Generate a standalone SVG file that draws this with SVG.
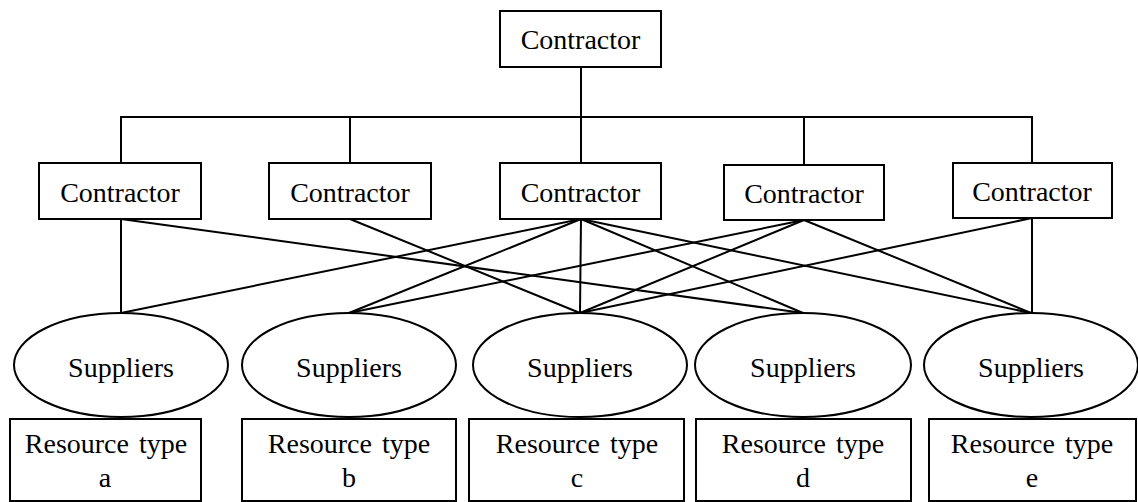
<svg xmlns="http://www.w3.org/2000/svg" width="1138" height="502" viewBox="0 0 1138 502">
<style>
  .box { fill: #fff; stroke: #000; stroke-width: 2; }
  .ell { fill: #fff; stroke: #000; stroke-width: 2; }
  .lbl { font-family: "Liberation Serif", "Times New Roman", serif; font-size: 28px; fill: #000; text-anchor: middle; }
  .res { word-spacing: 3px; }
  #connectors line, #connectors polyline { stroke: #000; stroke-width: 2; fill: none; }
</style>
<rect width="1138" height="502" fill="#fff"/>
<g id="connectors">
  <line x1="581" y1="67" x2="581" y2="117"/>
  <polyline points="121,163 121,117 1032,117 1032,163"/>
  <line x1="350" y1="117" x2="350" y2="163"/>
  <line x1="581" y1="117" x2="581" y2="163"/>
  <line x1="804" y1="117" x2="804" y2="165"/>
  <!-- box1 -->
  <line x1="121" y1="219" x2="121" y2="313"/>
  <line x1="121" y1="219" x2="803" y2="313"/>
  <!-- box2 -->
  <line x1="350" y1="219" x2="580" y2="313"/>
  <!-- box3 -->
  <line x1="581" y1="219" x2="121" y2="313"/>
  <line x1="581" y1="219" x2="349" y2="313"/>
  <line x1="581" y1="219" x2="580" y2="313"/>
  <line x1="581" y1="219" x2="803" y2="313"/>
  <line x1="581" y1="219" x2="1031" y2="313"/>
  <!-- box4 -->
  <line x1="804" y1="220" x2="349" y2="313"/>
  <line x1="804" y1="220" x2="580" y2="313"/>
  <line x1="804" y1="220" x2="1031" y2="313"/>
  <!-- box5 -->
  <line x1="1032" y1="218" x2="580" y2="313"/>
  <line x1="1032" y1="218" x2="1032" y2="313"/>
</g>
<g id="top-contractor">
  <rect class="box" x="500" y="11" width="161" height="56"/>
  <text class="lbl" x="580.5" y="49">Contractor</text>
</g>
<g id="contractor-1">
  <rect class="box" x="39" y="163" width="162" height="56"/>
  <text class="lbl" x="120" y="202">Contractor</text>
</g>
<g id="contractor-2">
  <rect class="box" x="269" y="163" width="162" height="56"/>
  <text class="lbl" x="350" y="202">Contractor</text>
</g>
<g id="contractor-3">
  <rect class="box" x="500" y="163" width="161" height="56"/>
  <text class="lbl" x="580.5" y="202">Contractor</text>
</g>
<g id="contractor-4">
  <rect class="box" x="724" y="165" width="160" height="55"/>
  <text class="lbl" x="804" y="203">Contractor</text>
</g>
<g id="contractor-5">
  <rect class="box" x="953" y="163" width="159" height="55"/>
  <text class="lbl" x="1032" y="201">Contractor</text>
</g>
<g id="suppliers-a">
  <ellipse class="ell" cx="121" cy="365" rx="107" ry="52"/>
  <text class="lbl" x="121" y="377">Suppliers</text>
</g>
<g id="suppliers-b">
  <ellipse class="ell" cx="349" cy="365" rx="107" ry="52"/>
  <text class="lbl" x="349" y="377">Suppliers</text>
</g>
<g id="suppliers-c">
  <ellipse class="ell" cx="580" cy="365" rx="107" ry="52"/>
  <text class="lbl" x="580" y="377">Suppliers</text>
</g>
<g id="suppliers-d">
  <ellipse class="ell" cx="803" cy="365" rx="108" ry="52"/>
  <text class="lbl" x="803" y="377">Suppliers</text>
</g>
<g id="suppliers-e">
  <ellipse class="ell" cx="1031" cy="365" rx="107" ry="52"/>
  <text class="lbl" x="1031" y="377">Suppliers</text>
</g>
<g id="resource-a">
  <rect class="box" x="10" y="419" width="191" height="82"/>
  <text class="lbl res" x="106" y="453">Resource type</text>
  <text class="lbl" x="105" y="487">a</text>
</g>
<g id="resource-b">
  <rect class="box" x="242" y="419" width="214" height="82"/>
  <text class="lbl res" x="349" y="453">Resource type</text>
  <text class="lbl" x="349" y="487">b</text>
</g>
<g id="resource-c">
  <rect class="box" x="469" y="419" width="215" height="82"/>
  <text class="lbl res" x="577" y="453">Resource type</text>
  <text class="lbl" x="577" y="487">c</text>
</g>
<g id="resource-d">
  <rect class="box" x="696" y="419" width="215" height="82"/>
  <text class="lbl res" x="803" y="453">Resource type</text>
  <text class="lbl" x="803" y="487">d</text>
</g>
<g id="resource-e">
  <rect class="box" x="929" y="419" width="207" height="82"/>
  <text class="lbl res" x="1032" y="453">Resource type</text>
  <text class="lbl" x="1032" y="487">e</text>
</g>
</svg>
